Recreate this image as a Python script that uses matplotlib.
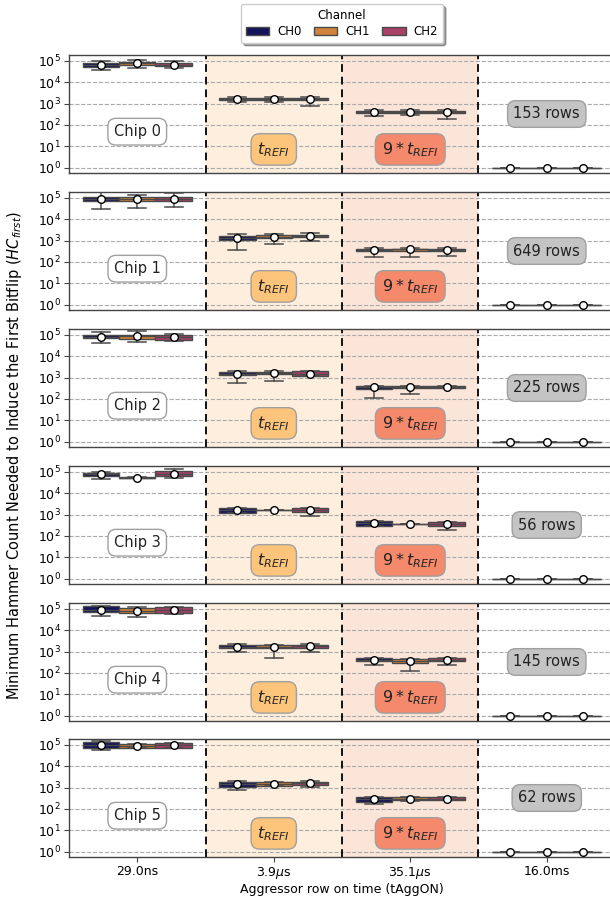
import numpy as np
import matplotlib
matplotlib.use("Agg")
import matplotlib.pyplot as plt
from matplotlib.patches import Patch
from matplotlib.ticker import NullLocator, FixedLocator

categories = ["29.0ns", "3.9$\\mu$s", "35.1$\\mu$s", "16.0ms"]
channels = ["CH0", "CH1", "CH2"]
chips = ["Chip 0", "Chip 1", "Chip 2", "Chip 3", "Chip 4", "Chip 5"]
row_counts = ["153 rows", "649 rows", "225 rows", "56 rows", "145 rows", "62 rows"]
channel_colors = ["#14145a", "#d2843c", "#a84068"]

# log10(HC_first) statistics, indexed [chip][tAggON][channel]
mean_log = [
    [[4.83, 4.91, 4.83], [3.21, 3.23, 3.21], [2.61, 2.61, 2.61], [0, 0, 0]],
    [[4.97, 4.95, 4.97], [3.13, 3.18, 3.21], [2.57, 2.59, 2.55], [0, 0, 0]],
    [[4.92, 4.94, 4.89], [3.19, 3.21, 3.19], [2.55, 2.56, 2.56], [0, 0, 0]],
    [[4.90, 4.74, 4.92], [3.21, 3.22, 3.22], [2.59, 2.55, 2.55], [0, 0, 0]],
    [[4.97, 4.89, 4.94], [3.24, 3.22, 3.25], [2.60, 2.57, 2.62], [0, 0, 0]],
    [[4.98, 4.95, 5.02], [3.16, 3.17, 3.21], [2.46, 2.49, 2.48], [0, 0, 0]],
]
q1_log = [
    [[4.74, 4.80, 4.75], [3.16, 3.17, 3.15], [2.56, 2.55, 2.56], [0, 0, 0]],
    [[4.85, 4.84, 4.84], [3.03, 3.12, 3.15], [2.52, 2.52, 2.50], [0, 0, 0]],
    [[4.84, 4.83, 4.76], [3.12, 3.15, 3.10], [2.48, 2.50, 2.50], [0, 0, 0]],
    [[4.82, 4.73, 4.79], [3.10, 3.21, 3.11], [2.47, 2.54, 2.45], [0, 0, 0]],
    [[4.87, 4.79, 4.81], [3.15, 3.15, 3.16], [2.54, 2.49, 2.56], [0, 0, 0]],
    [[4.86, 4.88, 4.88], [3.03, 3.10, 3.13], [2.33, 2.40, 2.40], [0, 0, 0]],
]
q3_log = [
    [[4.89, 4.95, 4.90], [3.26, 3.27, 3.26], [2.67, 2.67, 2.67], [0, 0, 0]],
    [[5.05, 5.03, 5.06], [3.21, 3.25, 3.28], [2.62, 2.63, 2.60], [0, 0, 0]],
    [[5.00, 5.02, 4.98], [3.26, 3.27, 3.29], [2.60, 2.62, 2.62], [0, 0, 0]],
    [[4.97, 4.75, 5.03], [3.32, 3.23, 3.32], [2.68, 2.56, 2.66], [0, 0, 0]],
    [[5.13, 5.03, 5.09], [3.32, 3.31, 3.33], [2.68, 2.64, 2.68], [0, 0, 0]],
    [[5.13, 5.05, 5.08], [3.25, 3.25, 3.27], [2.56, 2.54, 2.56], [0, 0, 0]],
]
wlo_log = [
    [[4.58, 4.68, 4.65], [3.06, 3.06, 2.91], [2.42, 2.48, 2.30], [0, 0, 0]],
    [[4.48, 4.51, 4.58], [2.54, 2.82, 2.98], [2.23, 2.23, 2.26], [0, 0, 0]],
    [[4.63, 4.66, 4.74], [2.73, 2.84, 3.10], [2.06, 2.23, 2.50], [0, 0, 0]],
    [[4.68, 4.73, 4.71], [3.10, 3.21, 2.94], [2.47, 2.54, 2.29], [0, 0, 0]],
    [[4.68, 4.63, 4.76], [3.00, 2.71, 3.00], [2.37, 2.08, 2.38], [0, 0, 0]],
    [[4.75, 4.86, 4.84], [2.90, 3.08, 3.03], [2.22, 2.38, 2.40], [0, 0, 0]],
]
whi_log = [
    [[5.00, 5.05, 5.00], [3.30, 3.30, 3.30], [2.70, 2.70, 2.70], [0, 0, 0]],
    [[5.29, 5.16, 5.24], [3.29, 3.33, 3.34], [2.65, 2.66, 2.64], [0, 0, 0]],
    [[5.13, 5.18, 5.03], [3.30, 3.30, 3.31], [2.63, 2.63, 2.63], [0, 0, 0]],
    [[5.00, 4.75, 5.14], [3.32, 3.23, 3.32], [2.68, 2.56, 2.66], [0, 0, 0]],
    [[5.16, 5.08, 5.11], [3.34, 3.33, 3.35], [2.70, 2.66, 2.70], [0, 0, 0]],
    [[5.17, 5.06, 5.08], [3.29, 3.27, 3.30], [2.58, 2.56, 2.57], [0, 0, 0]],
]

W, H = 610, 900
fig = plt.figure(figsize=(W / 100, H / 100), dpi=100)

line_col = "#4a4a4a"
box_w = 0.8 / 3
offsets = [-box_w, 0.0, box_w]
left_px, right_px = 69, 615
tops = [55, 192, 329, 466, 603, 739]
ax_h = 118.0

axes = []
for ci in range(6):
    top = tops[ci]
    ax = fig.add_axes([left_px / W, 1 - (top + ax_h) / H,
                       (right_px - left_px) / W, ax_h / H])
    axes.append(ax)
    ax.set_yscale("log")
    ax.set_xlim(-0.5, 3.5)
    ax.set_ylim(10 ** -0.25, 10 ** 5.28)
    ax.axvspan(0.5, 1.5, color="#feeede", zorder=0, lw=0)
    ax.axvspan(1.5, 2.5, color="#fbe5d9", zorder=0, lw=0)
    for xv in [0.5, 1.5, 2.5]:
        ax.axvline(xv, color="#111111", ls=(0, (4, 2.5)), lw=1.4, zorder=1)
    ax.yaxis.set_major_locator(FixedLocator([10.0 ** k for k in range(6)]))
    ax.yaxis.set_minor_locator(NullLocator())
    ax.grid(axis="y", which="major", ls="--", color="#aaaaaa", lw=0.8, zorder=0.5)
    ax.set_axisbelow(True)

    for t in range(4):
        for ch in range(3):
            stats = [dict(
                med=10 ** mean_log[ci][t][ch],
                q1=10 ** q1_log[ci][t][ch],
                q3=10 ** q3_log[ci][t][ch],
                whislo=10 ** wlo_log[ci][t][ch],
                whishi=10 ** whi_log[ci][t][ch],
                mean=10 ** mean_log[ci][t][ch],
            )]
            ax.bxp(stats, positions=[t + offsets[ch]], widths=box_w,
                   patch_artist=True, showmeans=True, showfliers=False,
                   manage_ticks=False,
                   boxprops=dict(facecolor=channel_colors[ch], edgecolor=line_col, lw=1.0),
                   whiskerprops=dict(color=line_col, lw=1.1),
                   capprops=dict(color=line_col, lw=1.1),
                   medianprops=dict(color=line_col, lw=1.0),
                   meanprops=dict(marker="o", markerfacecolor="white",
                                  markeredgecolor="black", markersize=5.5,
                                  markeredgewidth=1.0),
                   zorder=3)

    bb = dict(boxstyle="round,pad=0.4,rounding_size=0.55", lw=1.0, edgecolor="#a0a0a0")
    ax.text(0, 0.35, chips[ci], transform=ax.get_xaxis_transform(), ha="center",
            va="center", fontsize=10.5, color="#222222",
            bbox=dict(bb, facecolor="white"), zorder=5)
    ax.text(1, 0.20, r"$t_{REFI}$", transform=ax.get_xaxis_transform(), ha="center",
            va="center", fontsize=11.5, color="#222222",
            bbox=dict(bb, facecolor="#fdc57c"), zorder=5)
    ax.text(2, 0.20, r"$9 * t_{REFI}$", transform=ax.get_xaxis_transform(), ha="center",
            va="center", fontsize=11.5, color="#222222",
            bbox=dict(bb, facecolor="#f4896b"), zorder=5)
    ax.text(3, 0.50, row_counts[ci], transform=ax.get_xaxis_transform(), ha="center",
            va="center", fontsize=10.5, color="#222222",
            bbox=dict(bb, facecolor="#c4c4c4"), zorder=5)

    for sp in ax.spines.values():
        sp.set_color("#444444")
        sp.set_linewidth(1.0)
    ax.tick_params(axis="y", labelsize=9, length=3.5, pad=2.5, color="#444444")
    ax.set_xticks(range(4))
    if ci < 5:
        ax.tick_params(axis="x", length=0, labelbottom=False)
    else:
        ax.set_xticklabels(categories, fontsize=9)
        ax.tick_params(axis="x", length=3.5, pad=2.0, color="#444444")
        ax.set_xlabel("Aggressor row on time (tAggON)", fontsize=9, labelpad=2)

fig.text(15 / W, 1 - 456 / H,
         r"Minimum Hammer Count Needed to Induce the First Bitflip ($HC_{first}$)",
         rotation=90, ha="center", va="center", fontsize=10.5)

handles = [Patch(facecolor=c, edgecolor=line_col, lw=1.0, label=l)
           for c, l in zip(channel_colors, channels)]
fig.legend(handles=handles, loc="upper center", ncol=3, title="Channel",
           bbox_to_anchor=(342 / W, 1.0 + 2 / H), fontsize=8.5, title_fontsize=8.5,
           frameon=True, shadow=True, handlelength=2.0, handletextpad=0.7,
           columnspacing=1.0, borderpad=0.4, labelspacing=0.3)

fig.savefig("out.png", dpi=100)
